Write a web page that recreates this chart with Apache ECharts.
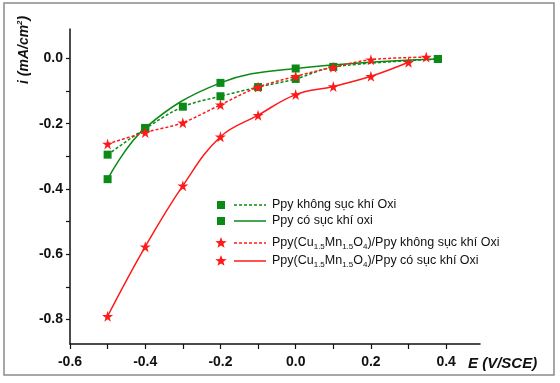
<!DOCTYPE html>
<html>
<head>
<meta charset="utf-8">
<script src="https://cdn.jsdelivr.net/npm/echarts@6/dist/echarts.min.js"></script>
<style>
html,body{margin:0;padding:0;background:#fff;}
#c{width:560px;height:383px;}
</style>
</head>
<body>
<div id="c"></div>
<script>
// Data (E in V/SCE, i in mA/cm2)
var ppyNoO2 = [[-0.5,-0.295],[-0.4,-0.215],[-0.3,-0.148],[-0.2,-0.116],[-0.1,-0.088],[0.0,-0.063],[0.1,-0.026],[0.378,-0.002]];
var ppyO2 = [[-0.5,-0.37],[-0.4,-0.213],[-0.2,-0.075],[0.0,-0.031],[0.378,-0.002]];
var cuMnNoO2 = [[-0.5,-0.262],[-0.4,-0.227],[-0.3,-0.197],[-0.2,-0.142],[-0.1,-0.088],[0.0,-0.055],[0.1,-0.027],[0.2,-0.004],[0.347,0.004]];
var cuMnO2 = [[-0.5,-0.79],[-0.4,-0.577],[-0.3,-0.39],[-0.2,-0.24],[-0.1,-0.174],[0.0,-0.111],[0.1,-0.086],[0.2,-0.055],[0.3,-0.012]];
var seriesNames = ['Ppy không sục khí Oxi','Ppy có sục khí oxi','Ppy(Cu{s|1.5}Mn{s|1.5}O{s|4})/Ppy không sục khí Oxi','Ppy(Cu{s|1.5}Mn{s|1.5}O{s|4})/Ppy có sục khí Oxi'];
var xTickLabels = [-0.6,-0.4,-0.2,0.0,0.2,0.4];
var xTicks = [-0.6,-0.5,-0.4,-0.3,-0.2,-0.1,0.0,0.1,0.2,0.3,0.4];
var yTickLabels = [-0.8,-0.6,-0.4,-0.2,0.0];
var yTicks = [-0.8,-0.7,-0.6,-0.5,-0.4,-0.3,-0.2,-0.1,0.0];

var GREEN = '#0b8a16';
var RED = '#ff1a1a';
var STAR = 'path://M50,0 L61,35 L98,35 L68,57 L79,91 L50,70 L21,91 L32,57 L2,35 L39,35 Z';
var FONT = 'Liberation Sans, Arial, sans-serif';

var chart = echarts.init(document.getElementById('c'));

function starPoints(cx, cy, R) {
  var pts = [];
  for (var i = 0; i < 10; i++) {
    var r = (i % 2 === 0) ? R : R * 0.42;
    var a = -Math.PI / 2 + i * Math.PI / 5;
    pts.push([cx + r * Math.cos(a), cy + r * Math.sin(a)]);
  }
  return pts;
}

function legendRow(y, color, symbol, dashed, text) {
  var items = [];
  if (symbol === 'rect') {
    items.push({type:'rect', shape:{x:217, y:y-4, width:8, height:8}, style:{fill:color}});
  } else {
    items.push({type:'polygon', shape:{points:starPoints(221, y, 6)}, style:{fill:color}});
  }
  items.push({type:'line', shape:{x1:234, y1:y, x2:266, y2:y}, style:{stroke:color, lineWidth:1.5, lineDash: dashed ? [3,2] : null}});
  items.push({type:'text', x:272, y:y, style:{text:text, fill:'#111', font:'12.5px '+FONT, verticalAlign:'middle',
    rich:{s:{fontSize:8, fontFamily:FONT, fill:'#111', padding:[8,0,0,0]}}}});
  return items;
}

var graphics = [
  {type:'rect', shape:{x:4, y:3, width:550, height:372}, style:{fill:'none', stroke:'#8a8a8a', lineWidth:1.5}, z:-1},
  {type:'text', x:16, y:84, rotation:Math.PI/2, style:{text:'i (mA/cm{sup|2})', fill:'#111', font:'italic bold 14px '+FONT,
     rich:{sup:{fontSize:8, fontWeight:'bold', fontStyle:'italic', fontFamily:FONT, fill:'#111', padding:[0,0,8,0]}}}},
  {type:'text', x:468, y:356, style:{text:'E (V/SCE)', fill:'#111', font:'italic bold 15px '+FONT}}
];
graphics = graphics.concat(legendRow(205, GREEN, 'rect', true, seriesNames[0]));
graphics = graphics.concat(legendRow(221, GREEN, 'rect', false, seriesNames[1]));
graphics = graphics.concat(legendRow(243, RED, 'star', true, seriesNames[2]));
graphics = graphics.concat(legendRow(261, RED, 'star', false, seriesNames[3]));

chart.setOption({
  animation:false,
  backgroundColor:'#fff',
  grid:{left:70, top:29, right:80, bottom:39, containLabel:false},
  xAxis:{type:'value', min:-0.6, max:0.49,
    axisLine:{onZero:false, lineStyle:{color:'#111', width:1.5}},
    axisTick:{inside:false, length:5, customValues:xTicks, lineStyle:{color:'#111', width:1.2}},
    axisLabel:{customValues:xTickLabels, margin:11, color:'#111', fontWeight:'bold', fontSize:14, fontFamily:FONT,
      formatter:function(v){return v.toFixed(1);}},
    splitLine:{show:false}},
  yAxis:{type:'value', min:-0.875, max:0.09,
    axisLine:{show:true, onZero:false, lineStyle:{color:'#111', width:1.5}},
    axisTick:{show:true, inside:false, length:4, customValues:yTicks, lineStyle:{color:'#111', width:1.2}},
    axisLabel:{customValues:yTickLabels, margin:7, color:'#111', fontWeight:'bold', fontSize:14, fontFamily:FONT,
      formatter:function(v){return v.toFixed(1);}},
    splitLine:{show:false}},
  graphic:graphics,
  series:[
    {name:'ppyNoO2', type:'line', data:ppyNoO2, smooth:0.3, symbol:'rect', symbolSize:8, itemStyle:{color:GREEN},
      lineStyle:{color:GREEN, width:1.5, type:[3,2]}, z:2},
    {name:'ppyO2', type:'line', data:ppyO2, smooth:0.4, symbol:'rect', symbolSize:8, itemStyle:{color:GREEN},
      lineStyle:{color:GREEN, width:1.5}, z:2},
    {name:'cuMnNoO2', type:'line', data:cuMnNoO2, smooth:0.3, symbol:STAR, symbolSize:11, itemStyle:{color:RED},
      lineStyle:{color:RED, width:1.5, type:[3,2]}, z:3},
    {name:'cuMnO2', type:'line', data:cuMnO2, smooth:0.4, symbol:STAR, symbolSize:11, itemStyle:{color:RED},
      lineStyle:{color:RED, width:1.5}, z:3}
  ]
});
</script>
</body>
</html>
